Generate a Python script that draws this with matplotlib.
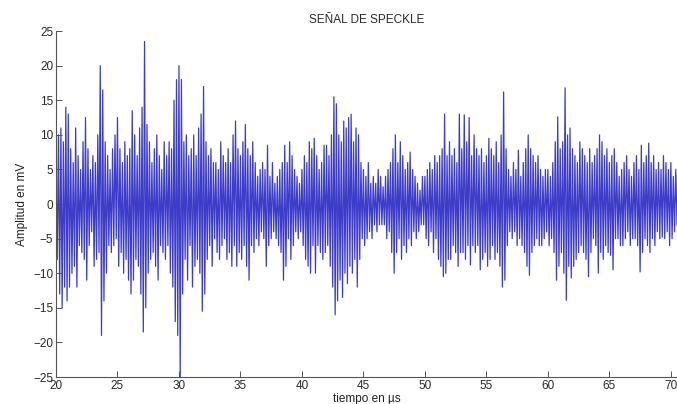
import numpy as np
import matplotlib
matplotlib.use("Agg")
import matplotlib.pyplot as plt

# Alternating local extremes of the signal, 10 per microsecond (mV)
seg_20_25 = [4, -8, 10, -13, 11, -15, 9, -12, 14, -14,
             13, -12, 8, -10, 6, -9, 11, -12, 7, -6,
             5, -7, 9, -8, 12.5, -11, 8, -6, 5, -4,
             7, -9, 6, -8, 10, -7, 20, -19, 16.5, -14,
             9, -10, 7, -6, 5, -7, 8, -6, 10, -5]
seg_25_30 = [12.5, -9, 8, -7, 6, -10, 9, -8, 7, -11,
             8, -13, 13.5, -11, 10, -8, 7, -9, 11, -13,
             14, -18.5, 23.5, -15, 11.5, -10, 9, -8, 6, -7,
             8, -9, 10, -11, 7, -6, 5, -7, 9, -8,
             7, -6, 9, -10, 8, -12, 15, -17, 18, -19]
seg_30_35 = [20, -25, 18, -13, 9, -8, 10, -11, 7, -6,
             8, -12, 10, -9, 7, -8, 11, -10, 13, -15.5,
             17, -13, 9, -8, 7, -6, 8, -9, 6, -5,
             6, -7, 5, -8, 9, -6, 7, -5, 6, -8,
             8, -7, 6, -9, 10, -6, 12, -9, 8, -7]
seg_35_40 = [7, -8, 9, -6, 11.5, -9, 8, -11, 7, -6,
             9, -7, 6, -5, 4, -6, 5, -4, 6, -5,
             5, -9, 8.5, -6, 4, -5, 6, -4, 3, -5,
             4, -6, 5, -7, 6, -11, 8.5, -9, 6, -5,
             9, -8, 7, -6, 5, -4, 4, -5, 3, -4]
seg_40_45 = [5, -6, 7, -8, 6, -9, 9, -10, 8, -6,
             9.5, -10, 7, -6, 5, -7, 6, -8, 8.5, -7,
             8.5, -6, 7, -9, 10, -12, 15.5, -16, 14.5, -14,
             10, -11, 9, -13.5, 12, -10, 11, -11.5, 12.5, -9,
             13, -10, 9, -8, 11, -12, 10, -8, 6, -5]
seg_45_50 = [5, -6, 4, -5, 6, -4, 3, -5, 4, -3,
             3, -4, 5, -3, 4, -3, 2.5, -3, 4, -5,
             5, -4, 6, -7, 8, -10, 10, -7, 6, -5,
             9, -8, 7, -6, 5, -7, 6, -5, 7.5, -6,
             5, -4, 4, -5, 3, -4, 2, -3, 4, -3]
seg_50_55 = [4, -5, 5, -6, 6, -4, 5, -7, 7, -5,
             6, -8, 7, -9, 8, -10.5, 13, -10, 7, -8,
             9, -8, 7, -6, 8, -7, 6, -9, 13, -7,
             8, -7, 12.9, -8, 9, -6, 12.5, -8.8, 7, -6,
             10, -7, 8, -6, 7, -9.5, 8, -8, 6, -7]
seg_55_60 = [7, -9, 9.5, -8, 8, -6, 7, -8, 9, -7,
             6, -9, 10, -12, 16.2, -11, 8, -6, 5, -4,
             4, -5, 6, -4, 5, -6, 7.8, -5, 4, -6,
             6, -7, 8, -9, 10, -10.3, 8, -7, 7, -6,
             6, -5, 7, -6, 5, -6, 4, -5, 5, -4]
seg_60_65 = [5, -6, 4, -5, 6, -7, 9, -11, 12.6, -9,
             8, -7, 9, -10, 16.8, -13.9, 10, -9, 11, -10.7,
             8, -9, 7, -8, 6, -7, 9, -6, 8, -7,
             7, -8, 6, -10.5, 8, -7, 6, -5, 7, -6,
             8, -10, 10, -7, 9, -8, 7, -6, 8, -7]
seg_65_70 = [6, -7.4, 7, -9.5, 8, -5, 6, -5, 4, -6,
             5, -6, 6, -5, 7, -4, 5, -6, 4, -5,
             6, -5, 7, -6, 5, -9.8, 8.5, -7, 6, -5,
             7, -6, 8.8, -7, 6, -5, 7, -6, 5, -4,
             6, -5, 5, -4.8, 7, -5, 6, -4, 5, -6]
seg_70_end = [6, -5, 4, -4, 5, -3]

t_start = 20.0
samples_per_us = 10

xticks = [20, 25, 30, 35, 40, 45, 50, 55, 60, 65, 70]
yticks = [-25, -20, -15, -10, -5, 0, 5, 10, 15, 20, 25]

amp = np.array(seg_20_25 + seg_25_30 + seg_30_35 + seg_35_40 + seg_40_45 +
               seg_45_50 + seg_50_55 + seg_55_60 + seg_60_65 + seg_65_70 + seg_70_end)
t = t_start + np.arange(len(amp)) / samples_per_us

plt.rcParams['font.family'] = ['Liberation Sans', 'DejaVu Sans']
fig = plt.figure(figsize=(6.77, 4.04), dpi=100)
ax = fig.add_axes([0.0827, 0.0668, 0.9173, 0.8562])
ax.plot(t, amp, color='#3c3cc8', lw=0.9)
ax.set_xlim(20, 70.5)
ax.set_ylim(-25, 25)
ax.set_xticks(xticks)
ax.set_yticks(yticks)
for s in ['top', 'right']:
    ax.spines[s].set_visible(False)
for s in ['left', 'bottom']:
    ax.spines[s].set_color('#555555')
    ax.spines[s].set_linewidth(0.8)
ax.tick_params(direction='in', length=4, width=0.7, colors='#555555',
               labelsize=8.5, labelcolor='#2a2a2a', pad=2)
ax.set_title('SEÑAL DE SPECKLE', fontsize=8.5, color='#2a2a2a', pad=6)
ax.set_ylabel('Amplitud en mV', fontsize=8.5, color='#222222', labelpad=4)
ax.set_xlabel('tiempo en µs', fontsize=8.5, color='#222222', labelpad=1)
fig.savefig('out.png', dpi=100)
